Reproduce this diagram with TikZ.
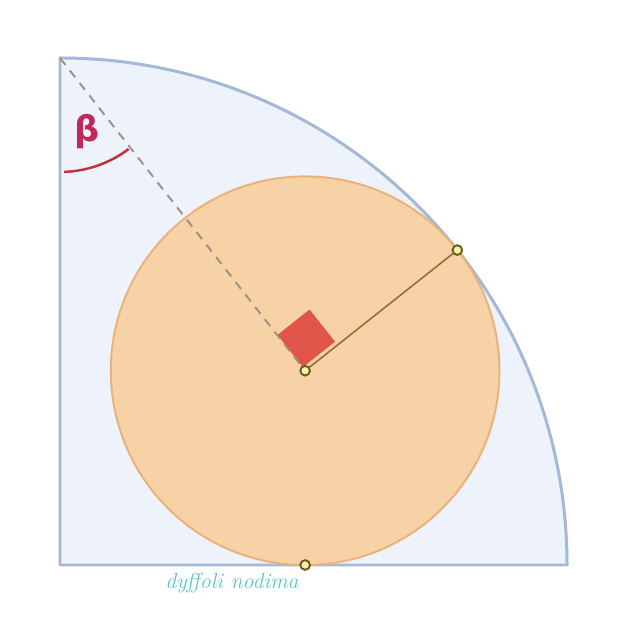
\documentclass[tikz,border=0pt]{standalone}
\usepackage{fontspec}
\newfontfamily\dejavu{DejaVu Sans}
\usetikzlibrary{calc}
\definecolor{qfill}{HTML}{EEF2FA}
\definecolor{qdraw}{HTML}{A4B8D8}
\definecolor{cfill}{HTML}{F7D2A6}
\definecolor{cdraw}{HTML}{E8B27A}
\definecolor{rline}{HTML}{9A6A3A}
\definecolor{dline}{HTML}{A09080}
\definecolor{sqcol}{HTML}{E0544A}
\definecolor{betacol}{HTML}{C0285A}
\definecolor{arccol}{HTML}{C0303A}
\definecolor{txtcol}{HTML}{5BC8C8}
\definecolor{ptfill}{HTML}{F5F0B0}
\definecolor{ptdraw}{HTML}{6B5E10}
\tikzset{
  quarter/.style={fill=qfill, draw=qdraw, line width=1.7pt, line join=round},
  incircle/.style={fill=cfill, draw=cdraw, line width=1.1pt},
  radiusline/.style={draw=rline, line width=0.9pt},
  dashline/.style={draw=dline, line width=1.1pt, dashed, dash pattern=on 5pt off 4pt},
  rightsq/.style={fill=sqcol},
  anglearc/.style={draw=arccol, line width=1.4pt},
  pt/.style={circle, fill=ptfill, draw=ptdraw, line width=1.1pt, minimum size=5.5pt, inner sep=0pt},
  lbl/.style={inner sep=0pt}
}
\begin{document}
\begin{tikzpicture}[x=0.02cm,y=0.02cm]
\useasboundingbox (0,0) rectangle (616,617);
\fill[white] (0,0) rectangle (616,617);
\coordinate (O) at (60,52);
\coordinate (A) at (60,559);
% quarter disc
\filldraw[quarter] (O) -- (A) arc[start angle=90, end angle=0, radius=507] -- cycle;
% inscribed circle
\coordinate (C) at ($(O)+(38.4:312.8)$);
\coordinate (Tc) at ($(O)+(38.4:507)$);
\coordinate (Bc) at ($(C)+(0,-194.3)$);
\filldraw[incircle] (C) circle[radius=194.3];
% right-angle square
\fill[rightsq, rotate around={38.4:(C)}] ($(C)+(38.4:3)+(128.4:3)$) rectangle ++(41,41);
% points
\node[pt] (Cp) at (C) {};
\node[pt] (T) at (Tc) {};
\node[pt] (B) at (Bc) {};
% lines
\draw[dashline] (A) -- (Cp);
\draw[radiusline] (Cp) -- (T);
% angle beta
\draw[anglearc] ($(A)+(272:114)$) arc[start angle=272, end angle=307, radius=114];
\node[lbl, text=betacol] (beta) at (87,485) {\dejavu\bfseries\fontsize{20}{23}\selectfont β};
% handwritten label
\node[lbl, text=txtcol] (note) at (232,34) {\fontsize{12.5}{14}\selectfont\itshape dyffoli nodima};
\end{tikzpicture}
\end{document}
